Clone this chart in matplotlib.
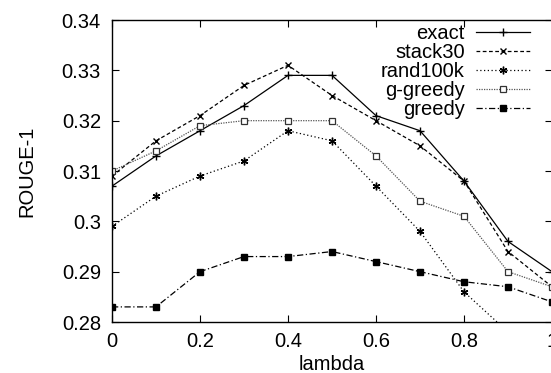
import matplotlib
matplotlib.use("Agg")
import matplotlib.pyplot as plt
from matplotlib.ticker import FuncFormatter, FixedLocator

plt.rcParams['font.family'] = ['Liberation Sans', 'DejaVu Sans']

lam = [0.0, 0.1, 0.2, 0.3, 0.4, 0.5, 0.6, 0.7, 0.8, 0.9, 1.0]
exact = [0.307, 0.313, 0.318, 0.323, 0.329, 0.329, 0.321, 0.318, 0.308, 0.296, 0.290]
stack30 = [0.309, 0.316, 0.321, 0.327, 0.331, 0.325, 0.320, 0.315, 0.308, 0.294, 0.287]
rand100k = [0.299, 0.305, 0.309, 0.312, 0.318, 0.316, 0.307, 0.298, 0.286, 0.278, 0.270]
ggreedy = [0.310, 0.314, 0.319, 0.320, 0.320, 0.320, 0.313, 0.304, 0.301, 0.290, 0.287]
greedy = [0.283, 0.283, 0.290, 0.293, 0.293, 0.294, 0.292, 0.290, 0.288, 0.287, 0.284]

xticks = [0, 0.2, 0.4, 0.6, 0.8, 1.0]
yticks = [0.28, 0.29, 0.30, 0.31, 0.32, 0.33, 0.34]

fig = plt.figure(figsize=(5.51, 3.73), dpi=100)
ax = fig.add_axes([112/551, 51/373, 440/551, 302/373])

fs = 14.5
lw = 0.9
ax.plot(lam, exact, color='black', lw=lw, ls='-', marker='+', ms=6, mew=1.0, label='exact')
ax.plot(lam, stack30, color='black', lw=lw, ls=(0, (3, 2)), marker='x', ms=5, mew=1.0, label='stack30')
ax.plot(lam, rand100k, color='black', lw=lw, ls=(0, (1, 2)), marker=(6, 2, 0), ms=5.5, mew=1.0, label='rand100k')
ax.plot(lam, ggreedy, color='#555555', lw=lw, ls=(0, (1, 1)), marker='s', ms=5, mew=0.9,
        mfc='white', mec='#333333', label='g-greedy')
ax.plot(lam, greedy, color='black', lw=lw, ls=(0, (5, 2, 1, 2)), marker='s', ms=5, label='greedy')

ax.set_xlim(0, 1)
ax.set_ylim(0.28, 0.34)
ax.xaxis.set_major_locator(FixedLocator(xticks))
ax.yaxis.set_major_locator(FixedLocator(yticks))
fmt = FuncFormatter(lambda v, p: '%g' % round(v, 4))
ax.xaxis.set_major_formatter(fmt)
ax.yaxis.set_major_formatter(fmt)
ax.tick_params(direction='in', top=True, right=True, length=5, width=0.8, labelsize=fs)
ax.tick_params(axis='x', pad=7)
ax.tick_params(axis='y', pad=8)
for s in ax.spines.values():
    s.set_linewidth(1.0)

ax.set_xlabel('lambda', fontsize=fs, labelpad=3)
ax.set_ylabel('ROUGE-1', fontsize=fs, labelpad=18)

ax.legend(loc='upper right', frameon=False, markerfirst=False, fontsize=fs,
          handlelength=2.7, labelspacing=0.0, handletextpad=0.55,
          borderaxespad=0.0, borderpad=0.2, bbox_to_anchor=(0.96, 1.0))

fig.savefig('out.png', dpi=100)
